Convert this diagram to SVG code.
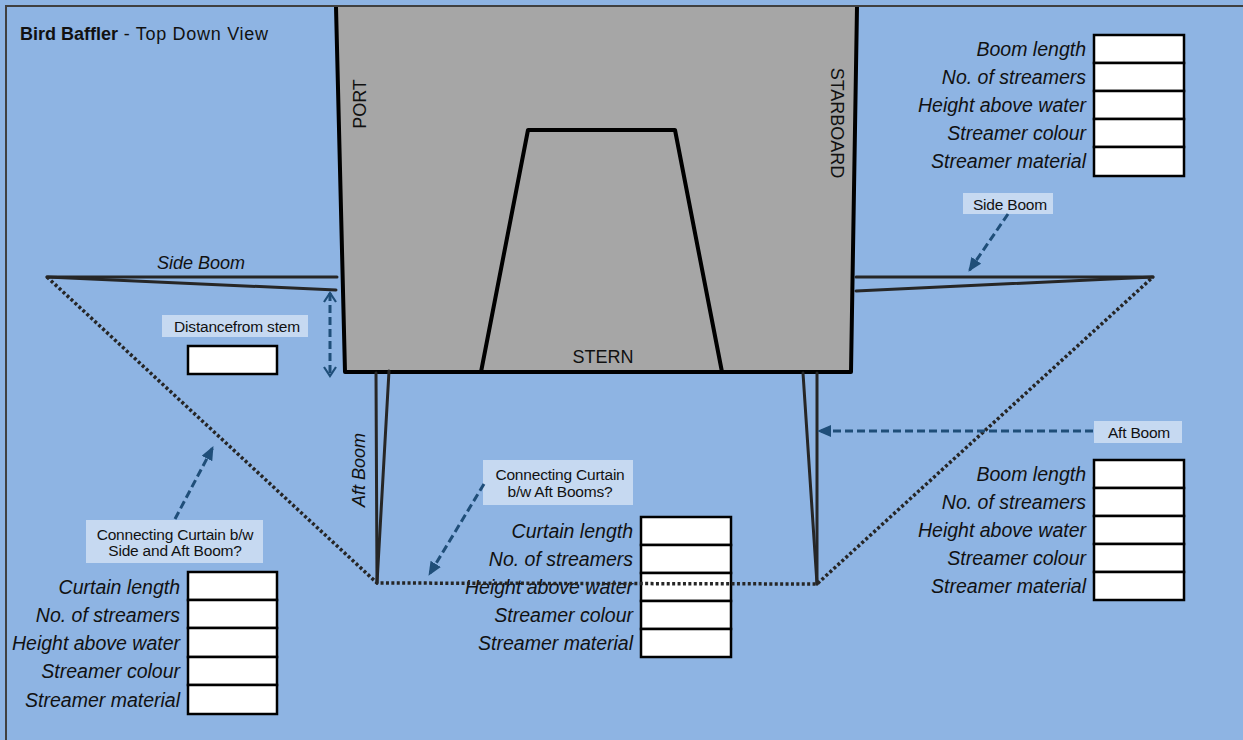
<svg xmlns="http://www.w3.org/2000/svg" width="1243" height="740" viewBox="0 0 1243 740">
  <style>
    .boom { stroke: #262626; stroke-width: 3; fill: none; stroke-linecap: round; }
    .curtain { stroke: #262626; stroke-width: 3.5; fill: none; stroke-dasharray: 3 2.4; }
    .cell { fill: #FFFFFF; stroke: #000000; stroke-width: 2.5; }
    .field { font-family: "Liberation Sans", Arial, sans-serif; font-style: italic; font-size: 19.5px; fill: #111111; text-anchor: end; }
    .tag { fill: #C6D9F1; }
    .tagtxt { font-family: "Liberation Sans", Arial, sans-serif; font-size: 15.5px; fill: #111111; text-anchor: middle; letter-spacing: -0.2px; }
    .boat-txt { font-family: "Liberation Sans", Arial, sans-serif; font-size: 18px; fill: #111111; text-anchor: middle; }
    .ital { font-family: "Liberation Sans", Arial, sans-serif; font-style: italic; font-size: 18px; fill: #111111; text-anchor: middle; }
    .arrow { stroke: #1F4E79; stroke-width: 3; fill: none; stroke-dasharray: 8 4; }
  </style>
  <defs>
    <marker id="head" markerUnits="userSpaceOnUse" markerWidth="14" markerHeight="12" refX="13" refY="6" orient="auto">
      <path d="M0,0 L14,6 L0,12 z" fill="#1F4E79"/>
    </marker>
    <marker id="open" markerUnits="userSpaceOnUse" markerWidth="12" markerHeight="14" refX="10" refY="7" orient="auto-start-reverse">
      <path d="M1,1 L10,7 L1,13" fill="none" stroke="#1F4E79" stroke-width="2.2"/>
    </marker>
  </defs>

  <!-- water -->
  <rect x="0" y="0" width="1243" height="740" fill="#8EB4E3"/>
  <path d="M6,745 L6,6 L1250,6" fill="none" stroke="#404040" stroke-width="2"/>

  <g id="title">
    <text x="20" y="40" font-family="'Liberation Sans', Arial, sans-serif" font-size="18" fill="#111111"><tspan font-weight="bold">Bird Baffler</tspan><tspan letter-spacing="0.7">  - Top Down View</tspan></text>
  </g>

  <g id="boat">
    <path d="M336,7 L857,7 L851,372 L345,372 Z" fill="#A6A6A6" stroke="none"/>
    <path d="M336,7 L345,372 L851,372 L857,7" fill="none" stroke="#000000" stroke-width="4" stroke-linejoin="round"/>
    <path d="M481,372 L528,130 L675,130 L722,372" fill="none" stroke="#000000" stroke-width="4" stroke-linejoin="round"/>
    <text class="boat-txt" x="366" y="104" transform="rotate(-90 366 104)">PORT</text>
    <text class="boat-txt" x="831" y="123" transform="rotate(90 831 123)">STARBOARD</text>
    <text class="boat-txt" x="603" y="363">STERN</text>
  </g>

  <g id="side-boom-left">
    <line class="boom" x1="47" y1="277" x2="337" y2="277"/>
    <line class="boom" x1="47" y1="277" x2="336" y2="290"/>
    <text class="ital" x="201" y="269">Side Boom</text>
  </g>

  <g id="side-boom-right">
    <line class="boom" x1="856" y1="277" x2="1153" y2="277"/>
    <line class="boom" x1="856" y1="291" x2="1153" y2="277"/>
  </g>

  <g id="aft-boom-left">
    <line class="boom" x1="376" y1="373" x2="377" y2="583"/>
    <line class="boom" x1="389" y1="371" x2="377" y2="583"/>
    <text class="ital" x="365" y="470" transform="rotate(-90 365 470)">Aft Boom</text>
  </g>

  <g id="aft-boom-right">
    <line class="boom" x1="803" y1="373" x2="817" y2="584"/>
    <line class="boom" x1="817" y1="373" x2="817" y2="584"/>
  </g>

  <g id="distance-from-stern">
    <rect class="tag" x="162" y="315" width="146" height="22"/>
    <text class="tagtxt" x="237" y="332">Distancefrom stem</text>
    <rect class="cell" x="188" y="346" width="89" height="28"/>
  </g>

  <g id="table-side-boom">
    <rect class="cell" x="1094" y="35" width="90" height="28"/>
    <rect class="cell" x="1094" y="63" width="90" height="28"/>
    <rect class="cell" x="1094" y="91" width="90" height="28"/>
    <rect class="cell" x="1094" y="119" width="90" height="28"/>
    <rect class="cell" x="1094" y="147" width="90" height="29"/>
    <text class="field" x="1086" y="56">Boom length</text>
    <text class="field" x="1086" y="84">No. of streamers</text>
    <text class="field" x="1086" y="112">Height above water</text>
    <text class="field" x="1086" y="140">Streamer colour</text>
    <text class="field" x="1086" y="168">Streamer material</text>
  </g>

  <g id="table-aft-boom">
    <rect class="cell" x="1094" y="460" width="90" height="28"/>
    <rect class="cell" x="1094" y="488" width="90" height="28"/>
    <rect class="cell" x="1094" y="516" width="90" height="28"/>
    <rect class="cell" x="1094" y="544" width="90" height="28"/>
    <rect class="cell" x="1094" y="572" width="90" height="28"/>
    <text class="field" x="1086" y="481">Boom length</text>
    <text class="field" x="1086" y="509">No. of streamers</text>
    <text class="field" x="1086" y="537">Height above water</text>
    <text class="field" x="1086" y="565">Streamer colour</text>
    <text class="field" x="1086" y="593">Streamer material</text>
  </g>

  <g id="table-aft-curtain">
    <rect class="cell" x="641" y="517" width="90" height="28"/>
    <rect class="cell" x="641" y="545" width="90" height="28"/>
    <rect class="cell" x="641" y="573" width="90" height="28"/>
    <rect class="cell" x="641" y="601" width="90" height="28"/>
    <rect class="cell" x="641" y="629" width="90" height="28"/>
    <text class="field" x="633" y="538">Curtain length</text>
    <text class="field" x="633" y="566">No. of streamers</text>
    <text class="field" x="633" y="594">Height above water</text>
    <text class="field" x="633" y="622">Streamer colour</text>
    <text class="field" x="633" y="650">Streamer material</text>
  </g>

  <g id="table-side-curtain">
    <rect class="cell" x="188" y="572" width="89" height="28"/>
    <rect class="cell" x="188" y="600" width="89" height="28"/>
    <rect class="cell" x="188" y="628" width="89" height="29"/>
    <rect class="cell" x="188" y="657" width="89" height="28"/>
    <rect class="cell" x="188" y="685" width="89" height="29"/>
    <text class="field" x="180" y="594">Curtain length</text>
    <text class="field" x="180" y="622">No. of streamers</text>
    <text class="field" x="180" y="650">Height above water</text>
    <text class="field" x="180" y="678">Streamer colour</text>
    <text class="field" x="180" y="707">Streamer material</text>
  </g>

  <g id="curtain">
    <path class="curtain" d="M47,277 L377,583 L817,584 L1153,277"/>
  </g>

  <g id="label-side-boom">
    <rect class="tag" x="963" y="193" width="90" height="21"/>
    <text class="tagtxt" x="1010" y="210">Side Boom</text>
  </g>
  <g id="label-aft-boom">
    <rect class="tag" x="1094" y="421" width="88" height="22"/>
    <text class="tagtxt" x="1139" y="438">Aft Boom</text>
  </g>
  <g id="label-aft-curtain">
    <rect class="tag" x="483" y="460" width="150" height="45"/>
    <text class="tagtxt" x="560" y="480">Connecting Curtain</text>
    <text class="tagtxt" x="560" y="497">b/w Aft Booms?</text>
  </g>
  <g id="label-side-curtain">
    <rect class="tag" x="86" y="520" width="177" height="43"/>
    <text class="tagtxt" x="175" y="540">Connecting Curtain b/w</text>
    <text class="tagtxt" x="175" y="556">Side and Aft Boom?</text>
  </g>

  <g id="connectors">
    <line class="arrow" x1="1008" y1="214" x2="969" y2="271" marker-end="url(#head)"/>
    <line class="arrow" x1="1093" y1="431" x2="818" y2="431" marker-end="url(#head)"/>
    <line class="arrow" x1="484" y1="484" x2="429" y2="575" marker-end="url(#head)"/>
    <line class="arrow" x1="175" y1="519" x2="213" y2="447" marker-end="url(#head)"/>
    <line class="arrow" x1="330" y1="293" x2="330" y2="376" stroke-width="2" stroke-dasharray="4 2" marker-start="url(#open)" marker-end="url(#open)"/>
  </g>
</svg>
